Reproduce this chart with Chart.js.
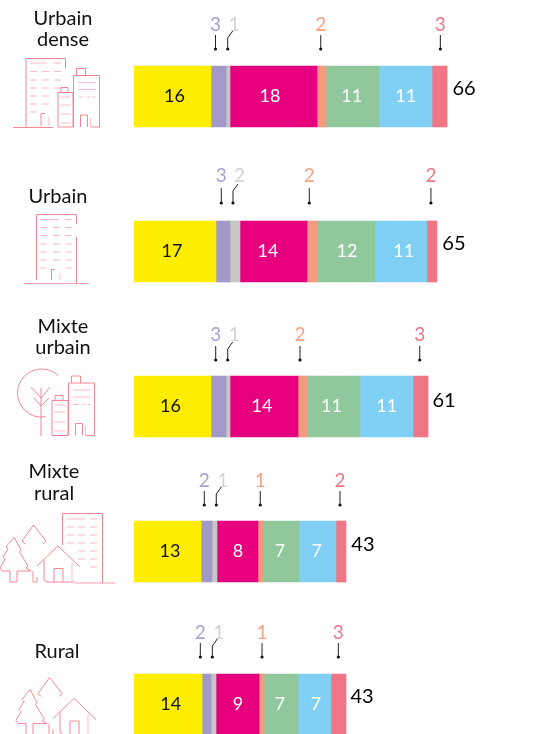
<!DOCTYPE html>
<html lang="fr">
<head>
<meta charset="utf-8">
<title>Urbain / rural</title>
<style>html,body{margin:0;padding:0;background:#fff;overflow:hidden}canvas{display:block}</style>
<script src="https://cdn.jsdelivr.net/npm/chart.js@4"></script>
</head>
<body>
<canvas id="c" width="551" height="734"></canvas>
<script>
// ---- data ----
const categories = [["Urbain","dense"],["Urbain"],["Mixte","urbain"],["Mixte","rural"],["Rural"]];
const totals = [66,65,61,43,43];
// segment lengths
const yellow  = [16.04,17.08,16.04,13.96,14.17];
const purple  = [3.13,2.92,3.13,2.29,1.88];
const gray    = [0.83,2.08,0.83,1.04,1.04];
const magenta = [18.13,13.96,14.17,8.54,8.96];
const orange  = [1.88,2.08,1.88,1.04,1.04];
const green   = [11.04,12.08,11.04,7.5,7.08];
const blue    = [11.04,10.83,11.04,7.71,6.88];
const red     = [3.13,2.08,3.13,2.08,3.13];
// printed labels
const yellowLabels  = [16,17,16,13,14];
const purpleLabels  = [3,3,3,2,2];
const grayLabels    = [1,2,1,1,1];
const magentaLabels = [18,14,14,8,9];
const orangeLabels  = [2,2,2,1,1];
const greenLabels   = [11,12,11,7,7];
const blueLabels    = [11,11,11,7,7];
const redLabels     = [3,2,3,2,3];

// ---- layout ----
const rowCentres = [96.5,251.5,406.5,551.5,704.5];
const pxPerUnit = 4.8, plotLeft = 134, W = 551, H = 734;
const titleX = [63,58,63,54,57];
const titleY = [[19,40],[197],[327,348],[472,494],[652]];
const calloutTextY = [25,176,335,481,632.5];
const calloutTop   = [35,188,346,491,643];
const calloutDot   = [49,203,360,505,657];
const totalLift = [7.5,7.5,5.5,6.5,7.5];
const totalGap  = [17,17,16,17,16];

const series = [
 {name:"A",values:yellow, labels:yellowLabels, color:"#FFED00",text:"#111",nudge:[2,-3,-2,2.5,2.7]},
 {name:"B",values:purple, labels:purpleLabels, color:"#A299C9",call:"#A9A3D3",nudgeC:[-3,-1.7,-2.8,-2.2,-6.2]},
 {name:"C",values:gray,   labels:grayLabels,   color:"#C6C6C6",call:"#D2D2D2",nudgeC:[-0.3,-2,-0.3,1.8,-1.2],elbow:true},
 {name:"D",values:magenta,labels:magentaLabels,color:"#E6007E",text:"#fff",nudge:[-3.5,-5.5,-2,0.5,0.5]},
 {name:"E",values:orange, labels:orangeLabels, color:"#F39A7F",call:"#F6A083",nudgeC:[-0.8,-2.7,-2.5,-0.2,0.5]},
 {name:"F",values:green,  labels:greenLabels,  color:"#90C89C",text:"#fff",nudge:[-0.8,1,-2,-1,-1]},
 {name:"G",values:blue,   labels:blueLabels,   color:"#80CFF5",text:"#fff",nudge:[0.2,2.7,0.2,-0.8,1.5]},
 {name:"H",values:red,    labels:redLabels,    color:"#F07585",call:"#F07585",nudgeC:[0.8,-1,-0.8,-1,-0.2]}
];

const FONT = "Lato, 'Open Sans', sans-serif";
const LINE = "#F28896", LIGHT = "#F9BCC4";

// ---- pictograms ----
function poly(ctx, pts, color){
  ctx.strokeStyle = color || LINE;
  ctx.beginPath();
  pts.forEach((p,i)=> i ? ctx.lineTo(p[0],p[1]) : ctx.moveTo(p[0],p[1]));
  ctx.stroke();
}
function windows(ctx, rows, spans){
  rows.forEach(y=>{
    spans.forEach(sp=>poly(ctx,[[sp[0],y],[sp[1],y]],LIGHT));
  });
}
function smallBlock(ctx, x, w, top, bottom, floors){
  poly(ctx,[[x,bottom],[x,top],[x+w,top],[x+w,bottom],[x,bottom]]);
  poly(ctx,[[x+3,top],[x+3,top-5],[x+w-5,top-5],[x+w-5,top]]);
  windows(ctx,floors,[[x+2.5,x+w-2.5]]);
}
function wideBlock(ctx, x, top, bottom){
  const r = x+26;
  poly(ctx,[[x,bottom],[x,top],[r,top],[r,bottom],[r-9,bottom]]);
  poly(ctx,[[x+3,top],[x+3,top-7],[x+12,top-7],[x+12,top]],LINE);
  windows(ctx,[top+7,top+14],[[x+5,r-4]]);
  windows(ctx,[top+21.5],[[x+5,x+10],[x+14,x+17],[x+19,r-4]]);
  poly(ctx,[[x+7,bottom],[x+7,bottom-12],[x+14,bottom-12],[x+14,bottom]]);
  poly(ctx,[[x+17,bottom-9],[x+17,bottom]],LIGHT);
}
function iconDense(ctx){
  poly(ctx,[[26,127],[26,58.5],[65.5,58.5],[65.5,68]]);
  poly(ctx,[[13,127.5],[53,127.5]]);
  windows(ctx,[63],[[30,47],[54,61]]);
  windows(ctx,[71.5,80,88],[[30,37],[42,49],[54,61]]);
  windows(ctx,[96,104],[[30,37],[42,49]]);
  windows(ctx,[112],[[30,37]]);
  poly(ctx,[[41,126],[41,113.5],[45,113.5]]);
  poly(ctx,[[49,117],[49,126]],LIGHT);
  smallBlock(ctx,58,15,92.5,127,[97,105,114,123]);
  wideBlock(ctx,73.5,75.5,127);
}
function iconUrban(ctx){
  poly(ctx,[[76.5,224],[76.5,214.5],[36.5,214.5],[36.5,280]]);
  poly(ctx,[[76.5,237],[76.5,283.5]]);
  poly(ctx,[[24,283.5],[89,283.5]],"#F7A4AF");
  windows(ctx,[219.5],[[40,59],[65,72]]);
  windows(ctx,[227.5,235.5,244,252,260],[[40,47],[53,60],[65,72]]);
  windows(ctx,[268],[[40,47],[65,72]]);
  poly(ctx,[[51.5,280],[51.5,269.5],[55,269.5]]);
  poly(ctx,[[60,273],[60,280]],LIGHT);
}
function iconMixedUrban(ctx){
  ctx.strokeStyle = LINE;
  ctx.beginPath();
  ctx.arc(41.5,393,24,-0.8,1.4,true);
  ctx.stroke();
  poly(ctx,[[41,388],[41,436]]);
  poly(ctx,[[31,387],[41,398],[50,387]]);
  poly(ctx,[[34,398],[41,406],[49,398]]);
  smallBlock(ctx,52,16,400.5,435.5,[405,412,422,431]);
  wideBlock(ctx,68.5,383,435.5);
}
function treesAndHouse(ctx, ox, oy){
  const T = pts => pts.map(p=>[p[0]+ox,p[1]+oy]);
  poly(ctx,T([[14,537],[6,547],[8,549],[3,557],[5,559],[0,568],[2,571],[10,571],[10,582],[17,582],[17,571],[31,571]]));
  poly(ctx,T([[14,537],[21,550],[19.5,552],[28,566],[26,568],[31,571]]));
  poly(ctx,T([[33.5,525],[22,541],[25,544]]));
  poly(ctx,T([[33.5,525],[46,541],[43,544]]));
  poly(ctx,T([[33,571],[33,582],[37,582],[37,577]]));
  poly(ctx,T([[37,566],[58,546],[80,567]]));
  poly(ctx,T([[44,560],[44,580],[47,582],[75,582]]));
  poly(ctx,T([[54,582],[54,568.5],[63,568.5],[63,582]]));
  poly(ctx,T([[72,562],[72,582]]),LIGHT);
}
function iconMixedRural(ctx){
  poly(ctx,[[62.5,545],[62.5,513.5],[102.5,513.5],[102.5,583]]);
  poly(ctx,[[75,583],[115,583]],"#F7A4AF");
  windows(ctx,[519],[[67,85],[90,97]]);
  windows(ctx,[527,535,543],[[67,74],[78,85],[90,97]]);
  windows(ctx,[551,559],[[78,85],[90,97]]);
  windows(ctx,[567],[[90,97]]);
  treesAndHouse(ctx,0,0);
}
function iconRural(ctx){ treesAndHouse(ctx,16,152.5); }
const icons = [iconDense,iconUrban,iconMixedUrban,iconMixedRural,iconRural];

// ---- annotations plugin ----
const annotate = {
  id:'annotate',
  afterDatasetsDraw(chart){
    const ctx = chart.ctx;
    ctx.save();
    ctx.lineWidth = 1;
    ctx.textAlign = 'center';
    ctx.textBaseline = 'middle';
    categories.forEach((lines,r)=>{
      // pictogram
      icons[r](ctx);
      // category title
      ctx.font = "20px "+FONT;
      ctx.fillStyle = "#111";
      lines.forEach((t,i)=>ctx.fillText(t,titleX[r],titleY[r][i]));
      // total at end of bar
      const lastEl = chart.getDatasetMeta(series.length-1).data[r];
      ctx.font = "20px "+FONT;
      ctx.fillStyle = "#000";
      ctx.fillText(String(totals[r]), lastEl.x+totalGap[r], rowCentres[r]-totalLift[r]);
      // segments
      series.forEach((s,i)=>{
        const el = chart.getDatasetMeta(i).data[r];
        const mid = (el.x+el.base)/2;
        if(s.text){
          ctx.font = "18px "+FONT;
          ctx.fillStyle = s.text;
          ctx.fillText(String(s.labels[r]), mid+s.nudge[r], chart.scales.y.getPixelForValue(rowCentres[r]));
        } else {
          const x = mid+s.nudgeC[r];
          const top = calloutTop[r], dot = calloutDot[r];
          ctx.strokeStyle = "#222";
          ctx.beginPath();
          if(s.elbow){
            ctx.moveTo(x,dot);
            ctx.lineTo(x,top+3);
            ctx.lineTo(x+5,top-4);
          } else {
            ctx.moveTo(x,top);
            ctx.lineTo(x,dot);
          }
          ctx.stroke();
          ctx.fillStyle = "#111";
          ctx.beginPath();
          ctx.arc(x,dot,1.6,0,Math.PI*2);
          ctx.fill();
          ctx.font = "19px "+FONT;
          ctx.fillStyle = s.call;
          ctx.fillText(String(s.labels[r]), s.elbow ? x+6.5 : x, calloutTextY[r]);
        }
      });
    });
    ctx.restore();
  }
};

new Chart(document.getElementById('c').getContext('2d'),{
  type:'bar',
  data:{
    datasets: series.map(s=>({
      label:s.name,
      data:s.values.map((v,r)=>({x:v,y:rowCentres[r]})),
      backgroundColor:s.color,
      borderWidth:0,
      barThickness:61
    }))
  },
  options:{
    indexAxis:'y',
    responsive:false,
    animation:false,
    devicePixelRatio:1,
    layout:{padding:{left:plotLeft,right:0,top:0,bottom:0}},
    plugins:{legend:{display:false},tooltip:{enabled:false},title:{display:false}},
    scales:{
      x:{type:'linear',stacked:true,display:false,min:0,max:(W-plotLeft)/pxPerUnit,grid:{display:false}},
      y:{type:'linear',stacked:true,display:false,reverse:true,min:0,max:H,offset:false,grid:{display:false,offset:false}}
    }
  },
  plugins:[annotate]
});
</script>
</body>
</html>
